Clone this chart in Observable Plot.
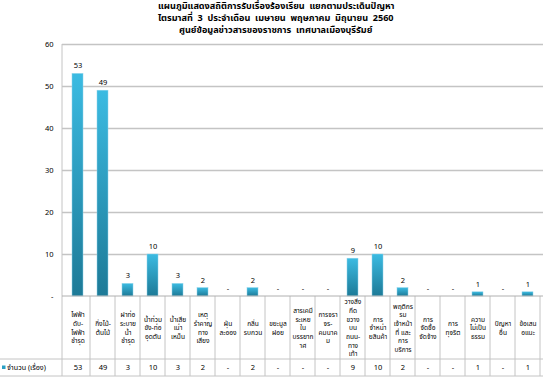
<!DOCTYPE html>
<html>
<head>
<meta charset="utf-8">
<script src="https://cdn.jsdelivr.net/npm/d3@7"></script>
<script src="https://cdn.jsdelivr.net/npm/@observablehq/plot@0.6"></script>
<style>
  html, body { margin: 0; padding: 0; background: #fff; }
  body { width: 550px; height: 379px; position: relative; overflow: hidden;
         font-family: Tahoma, "Noto Sans Thai", "Noto Sans", "DejaVu Sans", sans-serif; }
  #title { position: absolute; left: 158px; top: 0px; font-weight: bold; font-size: 9.1px; color: #000;
           white-space: nowrap; line-height: 12px; }
  .sp { display: inline-block; width: 21px; height: 1px; }
  #chart { position: absolute; left: 0; top: 0; }
</style>
</head>
<body>
<div id="title">แผนภูมิแสดงสถิติการรับเรื่องร้องเรียน&nbsp; แยกตามประเด็นปัญหา<br>ไตรมาสที่&nbsp; 3&nbsp; ประจำเดือน&nbsp; เมษายน&nbsp; พฤษภาคม&nbsp; มิถุนายน&nbsp; 2560<br><span class="sp"></span>ศูนย์ข้อมูลข่าวสารของราชการ&nbsp; เทศบาลเมืองบุรีรัมย์</div>
<div id="chart"></div>
<script>
const categories = [
  "ไฟฟ้าดับ-ไฟฟ้าชำรุด", "กิ่งไม้-ต้นไม้", "ฝาท่อระบายน้ำชำรุด", "น้ำท่วมขัง-ท่ออุดตัน",
  "น้ำเสียเน่าเหม็น", "เหตุรำคาญทางเสียง", "ฝุ่นละออง", "กลิ่นรบกวน", "ขยะมูลฝอย",
  "สารเคมีระเหยในบรรยากาศ", "การจราจร-คมนาคม", "วางสิ่งกีดขวางบนถนน-ทางเท้า",
  "การจำหน่ายสินค้า", "พฤติกรรมเจ้าหน้าที่ และการบริการ", "การจัดซื้อจัดจ้าง",
  "การทุจริต", "ความไม่เป็นธรรม", "ปัญหาอื่น", "ข้อเสนอแนะ"
];
const counts = [53, 49, 3, 10, 3, 2, 0, 2, 0, 0, 0, 9, 10, 2, 0, 0, 1, 0, 1];
const wrappedLabels = [
  "ไฟฟ้า\nดับ-\nไฟฟ้า\nชำรุด", "กิ่งไม้-\nต้นไม้", "ฝาท่อ\nระบาย\nน้ำ\nชำรุด",
  "น้ำท่วม\nขัง-ท่อ\nอุดตัน", "น้ำเสีย\nเน่า\nเหม็น", "เหตุ\nรำคาญ\nทาง\nเสียง",
  "ฝุ่น\nละออง", "กลิ่น\nรบกวน", "ขยะมูล\nฝอย", "สารเคมี\nระเหย\nใน\nบรรยาก\nาศ",
  "การจรา\nจร-\nคมนาค\nม", "วางสิ่ง\nกีด\nขวาง\nบน\nถนน-\nทาง\nเท้า",
  "การ\nจำหน่า\nยสินค้า", "พฤติกร\nรม\nเจ้าหน้า\nที่ และ\nการ\nบริการ",
  "การ\nจัดซื้อ\nจัดจ้าง", "การ\nทุจริต", "ความ\nไม่เป็น\nธรรม", "ปัญหา\nอื่น", "ข้อเสน\nอแนะ"
];
const seriesName = "จำนวน (เรื่อง)";
const yTicks = [0, 10, 20, 30, 40, 50, 60];

const data = categories.map((c, i) => ({cat: c, n: counts[i], label: wrappedLabels[i]}));
const fmt = v => v === 0 ? "-" : String(v);
const FONT = 'Tahoma, "Noto Sans Thai", "Noto Sans", "DejaVu Sans", sans-serif';
const GRID = "#c4c4c4";

const defs = () => {
  const svg = d3.create("svg:defs");
  const g = svg.append("linearGradient").attr("id", "barGrad").attr("x1", 0).attr("y1", 0).attr("x2", 0).attr("y2", 1);
  g.append("stop").attr("offset", "0%").attr("stop-color", "#3bbbe2");
  g.append("stop").attr("offset", "100%").attr("stop-color", "#1d7a97");
  return svg.node();
};

const table = (index, scales, values, dims) => {
  const x = scales.x, y = scales.y;
  const bw = x.bandwidth(), step = x.step();
  const left = dims.marginLeft, right = dims.width - dims.marginRight;
  const base = y(0);
  const rowTop = base + 63, rowBot = base + 80;
  const g = d3.create("svg:g").attr("stroke", GRID).attr("stroke-width", 1).attr("fill", "none");
  g.append("line").attr("x1", left).attr("x2", left).attr("y1", y(60)).attr("y2", rowBot);
  categories.forEach((c) => {
    const xr = x(c) + bw / 2 + step / 2;
    g.append("line").attr("x1", xr).attr("x2", xr).attr("y1", base).attr("y2", rowBot);
  });
  g.append("line").attr("x1", 0).attr("x2", right).attr("y1", rowTop).attr("y2", rowTop);
  g.append("line").attr("x1", 0).attr("x2", right).attr("y1", rowBot).attr("y2", rowBot);
  g.append("line").attr("x1", left).attr("x2", right).attr("y1", base).attr("y2", base).attr("stroke", "#b0b0b0");
  const mid = (rowTop + rowBot) / 2;
  g.append("rect").attr("x", 2).attr("y", mid - 2).attr("width", 3.5).attr("height", 3.5)
    .attr("fill", "#2a9fc4").attr("stroke", "none");
  g.append("text").attr("x", 7).attr("y", mid).attr("dy", "0.35em").attr("fill", "#000").attr("stroke", "none")
    .attr("text-anchor", "start").attr("font-size", 7.2).attr("font-family", FONT).text(seriesName);
  return g.node();
};

const chart = Plot.plot({
  width: 550,
  height: 379,
  marginTop: 44,
  marginBottom: 83,
  marginLeft: 62,
  marginRight: 7,
  style: {fontFamily: FONT, fontSize: "7.5px", background: "transparent", color: "#000"},
  x: {domain: categories, paddingInner: 0.58, paddingOuter: 0.29, axis: null},
  y: {domain: [0, 60], ticks: yTicks, tickFormat: fmt, tickSize: 0, tickPadding: 9, label: null},
  marks: [
    defs,
    Plot.ruleY(yTicks.filter(d => d > 0), {stroke: GRID, strokeWidth: 1.4}),
    Plot.barY(data.filter(d => d.n > 0), {x: "cat", y: "n", fill: "url(#barGrad)", stroke: "#8fd3ea", strokeWidth: 0.5}),
    Plot.text(data, {x: "cat", y: "n", text: d => fmt(d.n), dy: -8, fontSize: 7.5, fill: "#000"}),
    table,
    Plot.text(data, {x: "cat", text: "label", frameAnchor: "bottom", dy: 31, lineAnchor: "middle", lineHeight: 1.32, fontSize: 6.6, fill: "#000"}),
    Plot.text(data, {x: "cat", text: d => fmt(d.n), frameAnchor: "bottom", dy: 71.5, lineAnchor: "middle", fontSize: 7.5, fill: "#000"})
  ]
});
document.getElementById("chart").appendChild(chart);
</script>
</body>
</html>
